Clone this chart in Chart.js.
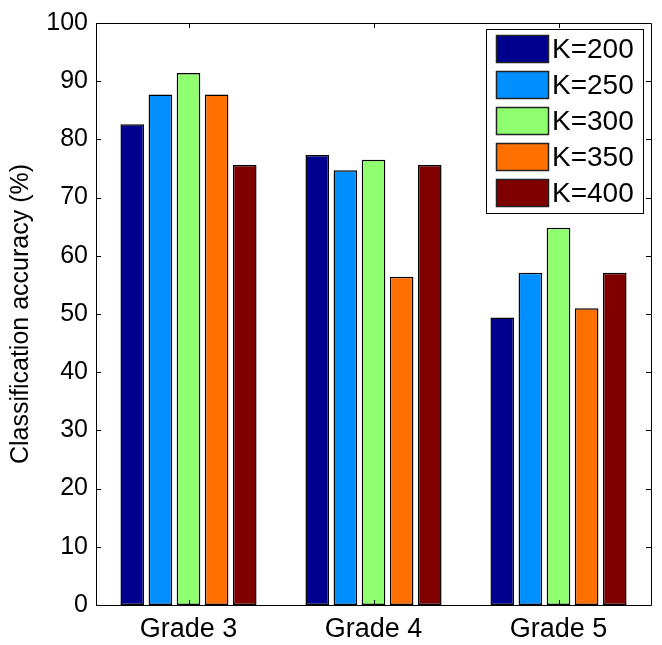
<!DOCTYPE html>
<html>
<head>
<meta charset="utf-8">
<script src="https://cdn.jsdelivr.net/npm/chart.js@4/dist/chart.umd.min.js"></script>
<style>
  html, body { margin: 0; padding: 0; background: #fff; }
  #wrap { width: 662px; height: 645px; }
</style>
</head>
<body>
<div id="wrap"><canvas id="bar-chart" width="662" height="645"></canvas></div>
<script>
// data
const grades = ["Grade 3", "Grade 4", "Grade 5"];
const seriesLabels = ["K=200", "K=250", "K=300", "K=350", "K=400"];
const k200 = [82.6, 77.3, 49.4];
const k250 = [87.7, 74.7, 57.1];
const k300 = [91.4, 76.5, 64.8];
const k350 = [87.7, 56.4, 51.0];
const k400 = [75.6, 75.6, 57.1];
const yTicks = [0, 10, 20, 30, 40, 50, 60, 70, 80, 90, 100];
const colors = ["#00008F", "#008FFF", "#8FFF70", "#FF7000", "#800000"];

const FONT = "'Liberation Sans', Arial, sans-serif";

// MATLAB-like axes box with inward ticks, plus boxed legend
const matlabAxes = {
  id: 'matlabAxes',
  afterDatasetsDraw(chart) {
    const ctx = chart.ctx, a = chart.chartArea;
    const x = chart.scales.x, y = chart.scales.y;
    ctx.save();
    ctx.strokeStyle = '#000';
    ctx.lineWidth = 1;
    ctx.beginPath();
    ctx.rect(Math.round(a.left) + 0.5, Math.round(a.top) + 0.5,
             Math.round(a.right - a.left), Math.round(a.bottom - a.top));
    ctx.stroke();
    const t = 5;
    ctx.beginPath();
    yTicks.forEach(v => {
      const py = Math.round(y.getPixelForValue(v)) + 0.5;
      ctx.moveTo(a.left, py); ctx.lineTo(a.left + t, py);
      ctx.moveTo(a.right, py); ctx.lineTo(a.right - t, py);
    });
    grades.forEach((g, i) => {
      const px = Math.round(x.getPixelForValue(i)) + 0.5;
      ctx.moveTo(px, a.bottom); ctx.lineTo(px, a.bottom - t);
      ctx.moveTo(px, a.top); ctx.lineTo(px, a.top + t);
    });
    ctx.stroke();

    // legend box
    const lx = 486, ly = 29, lw = 157, lh = 184, pitch = 36;
    ctx.fillStyle = '#fff';
    ctx.fillRect(lx, ly, lw, lh);
    ctx.strokeRect(lx + 0.5, ly + 0.5, lw, lh);
    ctx.font = '28px ' + FONT;
    ctx.textBaseline = 'middle';
    chart.data.datasets.forEach((ds, i) => {
      const sy = ly + 6 + i * pitch;
      ctx.fillStyle = ds.backgroundColor;
      ctx.fillRect(lx + 10, sy, 52, 27);
      ctx.strokeStyle = '#222';
      ctx.lineWidth = 1.5;
      ctx.strokeRect(lx + 10.5, sy + 0.5, 52, 27);
      ctx.fillStyle = '#000';
      ctx.fillText(ds.label, lx + 66, sy + 15);
    });
    ctx.restore();
  }
};

new Chart(document.getElementById("bar-chart"), {
  type: 'bar',
  data: {
    labels: grades,
    datasets: [k200, k250, k300, k350, k400].map((d, i) => ({
      label: seriesLabels[i],
      data: d,
      backgroundColor: colors[i],
      borderColor: '#000',
      borderWidth: 1.5,
      borderSkipped: false,
      inflateAmount: 0,
      barPercentage: 0.84,
      categoryPercentage: 0.76
    }))
  },
  options: {
    responsive: false,
    animation: false,
    layout: { padding: { left: 0, top: 21, right: 11, bottom: 0 } },
    plugins: {
      legend: { display: false },
      tooltip: { enabled: false }
    },
    scales: {
      x: {
        grid: { display: false },
        border: { display: false },
        ticks: { color: '#000', font: { family: FONT, size: 27 }, padding: 0, maxRotation: 0 },
        afterFit(s) { s.height = 40; }
      },
      y: {
        min: 0, max: 100,
        grid: { display: false, drawTicks: false },
        border: { display: false },
        afterBuildTicks(s) { s.ticks = yTicks.map(v => ({ value: v })); },
        ticks: { color: '#000', font: { family: FONT, size: 25 }, padding: 8 },
        title: {
          display: true,
          text: 'Classification accuracy (%)',
          color: '#000',
          font: { family: FONT, size: 25 },
          padding: { top: 6, bottom: 0 }
        },
        afterFit(s) { s.width = 96; }
      }
    }
  },
  plugins: [matlabAxes]
});
</script>
</body>
</html>
